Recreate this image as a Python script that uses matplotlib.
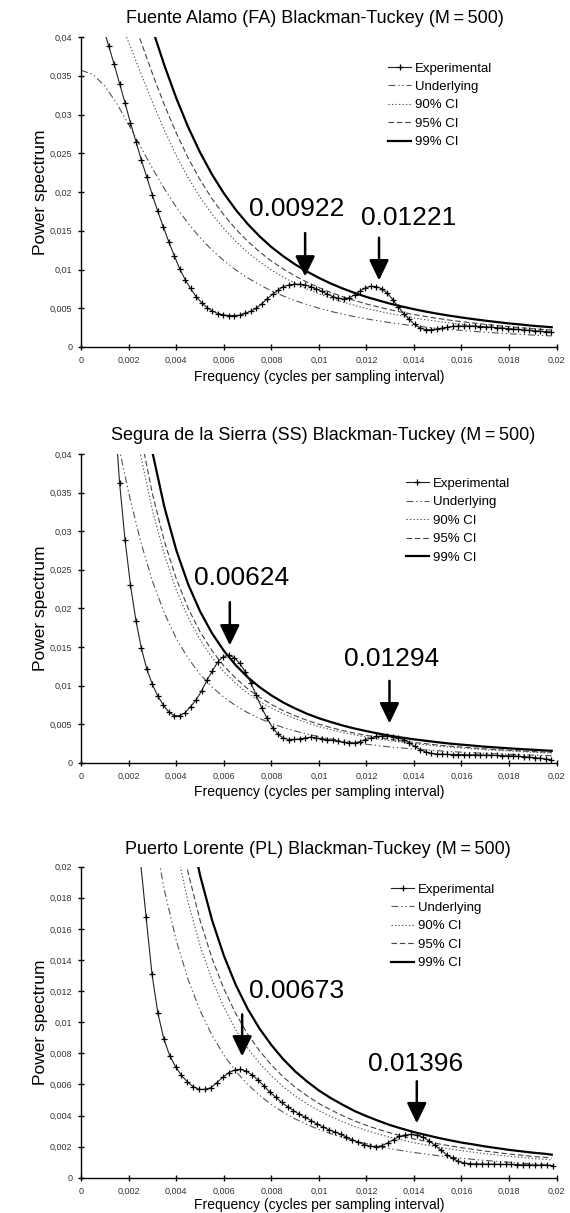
import numpy as np
import matplotlib
matplotlib.use("Agg")
import matplotlib.pyplot as plt
from matplotlib.ticker import FuncFormatter

plt.rcParams["font.family"] = ["Liberation Sans", "DejaVu Sans"]
plt.rcParams["lines.scale_dashes"] = False

# ---------------- data ----------------
# frequency grids (cycles per sampling interval)
freq_exp_12 = np.arange(87) * 0.00023
freq_exp_3 = np.arange(81) * 0.000248
freq_smooth = np.append(np.arange(40) * 0.0005, 0.0198)

# Fuente Alamo (FA)
fa_exp = [0.048, 0.0468, 0.0453, 0.0435, 0.0412,
          0.0389, 0.0365, 0.034, 0.0315, 0.0289,
          0.0265, 0.0241, 0.0219, 0.0196, 0.0175,
          0.0155, 0.0136, 0.0118, 0.0101, 0.0087,
          0.00756, 0.0065, 0.00573, 0.00509, 0.00462,
          0.00432, 0.00415, 0.00406, 0.00406, 0.0041,
          0.00436, 0.0046, 0.005, 0.00556, 0.0062,
          0.0068, 0.00735, 0.0078, 0.008, 0.0081,
          0.0081, 0.008, 0.0078, 0.00746, 0.0072,
          0.00684, 0.0065, 0.0063, 0.0062, 0.00635,
          0.00672, 0.00722, 0.00765, 0.00782, 0.0078,
          0.0075, 0.00695, 0.00612, 0.0052, 0.0043,
          0.00355, 0.00292, 0.00245, 0.00225, 0.00224,
          0.00232, 0.00242, 0.00256, 0.00265, 0.0027,
          0.0027, 0.0027, 0.00268, 0.00264, 0.0026,
          0.00255, 0.0025, 0.00244, 0.00238, 0.00232,
          0.00226, 0.0022, 0.00214, 0.00208, 0.00202,
          0.00197, 0.00192]
fa_under = [0.0357, 0.03516, 0.03364, 0.03138, 0.02867, 0.02582, 0.02301, 0.0204,
            0.01803, 0.01593, 0.0141, 0.01251, 0.01114, 0.00995, 0.00892, 0.00803,
            0.00725, 0.00658, 0.00599, 0.00547, 0.00501, 0.0046, 0.00424, 0.00392,
            0.00363, 0.00338, 0.00314, 0.00293, 0.00274, 0.00257, 0.00241, 0.00227,
            0.00214, 0.00202, 0.00191, 0.00181, 0.00171, 0.00163, 0.00154, 0.00147, 0.00143]
fa_ci90 = [0.0489, 0.04817, 0.04609, 0.04299, 0.03928, 0.03537, 0.03152, 0.02795,
           0.0247, 0.02182, 0.01932, 0.01714, 0.01526, 0.01363, 0.01222, 0.011,
           0.00993, 0.00901, 0.00821, 0.00749, 0.00686, 0.0063, 0.00581, 0.00537,
           0.00497, 0.00463, 0.0043, 0.00401, 0.00375, 0.00352, 0.0033, 0.00311,
           0.00293, 0.00277, 0.00262, 0.00248, 0.00234, 0.00223, 0.00211, 0.00201, 0.00196]
fa_ci95 = [0.05462, 0.05379, 0.05147, 0.04801, 0.04387, 0.0395, 0.03521, 0.03121,
           0.02759, 0.02437, 0.02157, 0.01914, 0.01704, 0.01522, 0.01365, 0.01229,
           0.01109, 0.01007, 0.00916, 0.00837, 0.00767, 0.00704, 0.00649, 0.006,
           0.00555, 0.00517, 0.0048, 0.00448, 0.00419, 0.00393, 0.00369, 0.00347,
           0.00327, 0.00309, 0.00292, 0.00277, 0.00262, 0.00249, 0.00236, 0.00225, 0.00219]
fa_ci99 = [0.06355, 0.06258, 0.05988, 0.05586, 0.05103, 0.04596, 0.04096, 0.03631,
           0.03209, 0.02836, 0.0251, 0.02227, 0.01983, 0.01771, 0.01588, 0.01429,
           0.0129, 0.01171, 0.01066, 0.00974, 0.00892, 0.00819, 0.00755, 0.00698,
           0.00646, 0.00602, 0.00559, 0.00522, 0.00488, 0.00457, 0.00429, 0.00404,
           0.00381, 0.0036, 0.0034, 0.00322, 0.00304, 0.0029, 0.00274, 0.00262, 0.00255]

# Segura de la Sierra (SS)
ss_exp = [0.1, 0.095, 0.088, 0.079, 0.068, 0.057, 0.0465,
          0.0363, 0.0289, 0.023, 0.0184, 0.0148,
          0.0121, 0.01015, 0.00864, 0.00747, 0.00657,
          0.00609, 0.00609, 0.00648, 0.00726, 0.00812,
          0.00929, 0.01067, 0.01192, 0.01309, 0.01374,
          0.01395, 0.0136, 0.01287, 0.01179, 0.01037,
          0.00877, 0.00713, 0.00575, 0.00454, 0.00367,
          0.00318, 0.003, 0.00302, 0.0031, 0.0032,
          0.0033, 0.0032, 0.00312, 0.003, 0.0029,
          0.00278, 0.00264, 0.00252, 0.00255, 0.00274,
          0.003, 0.0032, 0.0034, 0.00346, 0.00345,
          0.00335, 0.0032, 0.003, 0.00256, 0.0021,
          0.0017, 0.0014, 0.0012, 0.00112, 0.0011,
          0.00108, 0.00106, 0.00105, 0.00104, 0.00103,
          0.00102, 0.001, 0.00098, 0.00096, 0.00094,
          0.00092, 0.0009, 0.00087, 0.00083, 0.00078,
          0.00072, 0.00065, 0.00057, 0.00048, 0.0004]
ss_under = [0.0572, 0.05497, 0.0493, 0.04207, 0.0349, 0.02863, 0.02347, 0.01935,
            0.01609, 0.01351, 0.01146, 0.00981, 0.00848, 0.00739, 0.00648, 0.00573,
            0.0051, 0.00456, 0.00411, 0.00371, 0.00337, 0.00308, 0.00282, 0.00259,
            0.00239, 0.00221, 0.00204, 0.0019, 0.00177, 0.00166, 0.00155, 0.00145,
            0.00137, 0.00129, 0.00121, 0.00115, 0.00109, 0.00103, 0.00098, 0.00093, 0.0009]
ss_ci90 = [0.07951, 0.07641, 0.06853, 0.05848, 0.04851, 0.0398, 0.03262, 0.0269,
           0.02237, 0.01878, 0.01593, 0.01364, 0.01179, 0.01027, 0.00901, 0.00796,
           0.00709, 0.00634, 0.00571, 0.00516, 0.00468, 0.00428, 0.00392, 0.0036,
           0.00332, 0.00307, 0.00284, 0.00264, 0.00246, 0.00231, 0.00215, 0.00202,
           0.0019, 0.00179, 0.00168, 0.0016, 0.00152, 0.00143, 0.00136, 0.00129, 0.00125]
ss_ci95 = [0.08466, 0.08136, 0.07296, 0.06226, 0.05165, 0.04237, 0.03474, 0.02864,
           0.02381, 0.01999, 0.01696, 0.01452, 0.01255, 0.01094, 0.00959, 0.00848,
           0.00755, 0.00675, 0.00608, 0.00549, 0.00499, 0.00456, 0.00417, 0.00383,
           0.00354, 0.00327, 0.00302, 0.00281, 0.00262, 0.00246, 0.00229, 0.00215,
           0.00203, 0.00191, 0.00179, 0.0017, 0.00161, 0.00152, 0.00145, 0.00138, 0.00133]
ss_ci99 = [0.09781, 0.094, 0.0843, 0.07194, 0.05968, 0.04896, 0.04013, 0.03309,
           0.02751, 0.0231, 0.0196, 0.01678, 0.0145, 0.01264, 0.01108, 0.0098,
           0.00872, 0.0078, 0.00703, 0.00634, 0.00576, 0.00527, 0.00482, 0.00443,
           0.00409, 0.00378, 0.00349, 0.00325, 0.00303, 0.00284, 0.00265, 0.00248,
           0.00234, 0.00221, 0.00207, 0.00197, 0.00186, 0.00176, 0.00168, 0.00159, 0.00154]

# Puerto Lorente (PL)
pl_exp = [0.07, 0.07, 0.068, 0.065, 0.06, 0.055,
          0.048, 0.04, 0.033, 0.026, 0.0205,
          0.01674, 0.01308, 0.01057, 0.00894, 0.00785,
          0.00714, 0.00658, 0.00617, 0.00585, 0.00568,
          0.00568, 0.00579, 0.00611, 0.00645, 0.00675,
          0.00692, 0.00697, 0.00686, 0.0066, 0.00628,
          0.0059, 0.00551, 0.00517, 0.00484, 0.00457,
          0.00431, 0.00409, 0.00388, 0.00367, 0.00345,
          0.00327, 0.00309, 0.00295, 0.0028, 0.00261,
          0.00244, 0.00228, 0.00213, 0.00203, 0.00199,
          0.00206, 0.00223, 0.00245, 0.00265, 0.00275,
          0.00278, 0.00273, 0.0026, 0.00238, 0.0021,
          0.00178, 0.00148, 0.00124, 0.00105, 0.00094,
          0.0009, 0.00089, 0.00088, 0.00087, 0.00087,
          0.00086, 0.00085, 0.00085, 0.00084, 0.00083,
          0.00082, 0.00081, 0.0008, 0.00079, 0.00078]
pl_under = [0.05989, 0.05727, 0.05062, 0.04241, 0.03457, 0.02793, 0.02261, 0.01846,
            0.01524, 0.01272, 0.01074, 0.00916, 0.00789, 0.00685, 0.006, 0.0053,
            0.00471, 0.00421, 0.00378, 0.00342, 0.0031, 0.00283, 0.00259, 0.00237,
            0.00219, 0.00202, 0.00187, 0.00174, 0.00162, 0.00152, 0.00142, 0.00133,
            0.00125, 0.00118, 0.00111, 0.00105, 0.00099, 0.00094, 0.00089, 0.00085, 0.00082]
pl_ci90 = [0.08325, 0.0796, 0.07036, 0.05895, 0.04805, 0.03882, 0.03143, 0.02566,
           0.02118, 0.01768, 0.01493, 0.01273, 0.01097, 0.00952, 0.00834, 0.00737,
           0.00655, 0.00585, 0.00525, 0.00475, 0.00431, 0.00393, 0.0036, 0.00329,
           0.00304, 0.00281, 0.0026, 0.00242, 0.00225, 0.00211, 0.00197, 0.00185,
           0.00174, 0.00164, 0.00154, 0.00146, 0.00138, 0.00131, 0.00124, 0.00118, 0.00114]
pl_ci95 = [0.09223, 0.0882, 0.07795, 0.06531, 0.05324, 0.04301, 0.03482, 0.02843,
           0.02347, 0.01959, 0.01654, 0.01411, 0.01215, 0.01055, 0.00924, 0.00816,
           0.00725, 0.00648, 0.00582, 0.00527, 0.00477, 0.00436, 0.00399, 0.00365,
           0.00337, 0.00311, 0.00288, 0.00268, 0.00249, 0.00234, 0.00219, 0.00205,
           0.00193, 0.00182, 0.00171, 0.00162, 0.00152, 0.00145, 0.00137, 0.00131, 0.00126]
pl_ci99 = [0.1084, 0.1037, 0.09162, 0.07676, 0.06257, 0.05055, 0.04092, 0.03341,
           0.02758, 0.02302, 0.01944, 0.01658, 0.01428, 0.0124, 0.01086, 0.00959,
           0.00853, 0.00762, 0.00684, 0.00619, 0.00561, 0.00512, 0.00469, 0.00429,
           0.00396, 0.00366, 0.00338, 0.00315, 0.00293, 0.00275, 0.00257, 0.00241,
           0.00226, 0.00214, 0.00201, 0.0019, 0.00179, 0.0017, 0.00161, 0.00154, 0.00148]

titles = ["Fuente Alamo (FA) Blackman-Tuckey (M\u2009=\u2009500)",
          "Segura de la Sierra (SS) Blackman-Tuckey (M\u2009=\u2009500)",
          "Puerto Lorente (PL) Blackman-Tuckey (M\u2009=\u2009500)"]
y_max = [0.04, 0.04, 0.02]
y_step = [0.005, 0.005, 0.002]
# peak labels: (text, text x, text y, arrow x, arrow top, arrow tip)
peaks = [
    [("0.00922", 0.00908, 0.0178, 0.00942, 0.0147, 0.0091),
     ("0.01221", 0.01379, 0.0167, 0.01253, 0.0141, 0.0086)],
    [("0.00624", 0.00673, 0.0239, 0.00625, 0.0208, 0.0152),
     ("0.01294", 0.01306, 0.0135, 0.01297, 0.0106, 0.0051)],
    [("0.00673", 0.00904, 0.0120, 0.00677, 0.0105, 0.0078),
     ("0.01396", 0.01405, 0.0073, 0.01412, 0.0062, 0.0035)],
]
panels = [
    (freq_exp_12, fa_exp, fa_under, fa_ci90, fa_ci95, fa_ci99),
    (freq_exp_12, ss_exp, ss_under, ss_ci90, ss_ci95, ss_ci99),
    (freq_exp_3, pl_exp, pl_under, pl_ci90, pl_ci95, pl_ci99),
]

# ---------------- layout (pixels of a 570x1213 image) ----------------
W, H = 570, 1213
ax_left, ax_right = 81.3, 556.5
ax_top_bot = [(37, 347), (454, 762.7), (866.7, 1177.7)]
title_pos = [(315, 18.5), (323.6, 435.8), (318, 849.2)]
xlabel_y = [377.5, 791.7, 1205]
legend_pos = [(388, 67.3), (405.5, 482.7), (391, 888.3)]

fig = plt.figure(figsize=(W / 100, H / 100), dpi=100)

comma = FuncFormatter(lambda v, p: f"{v:g}".replace(".", ","))

for i, (fx, exp, under, c90, c95, c99) in enumerate(panels):
    top, bot = ax_top_bot[i]
    ax = fig.add_axes([ax_left / W, 1 - bot / H,
                       (ax_right - ax_left) / W, (bot - top) / H])

    ax.plot(freq_smooth, under, color="#555555", lw=0.8,
            ls=(0, (5, 2, 1, 2, 1, 2)), label="Underlying")
    ax.plot(freq_smooth, c90, color="#555555", lw=0.8,
            ls=(0, (1, 1.5)), label="90% CI")
    ax.plot(freq_smooth, c95, color="#444444", lw=0.8,
            ls=(0, (4, 2)), label="95% CI")
    ax.plot(freq_smooth, c99, color="black", lw=1.6, label="99% CI")
    ax.plot(fx, exp, color="#222222", lw=0.8, marker="+", ms=4.5,
            mew=0.9, mec="black", label="Experimental")

    ax.set_xlim(0, 0.02)
    ax.set_ylim(0, y_max[i])
    ax.set_xticks(np.arange(11) * 0.002)
    ax.set_yticks(np.arange(9) * y_step[i] if i < 2 else np.arange(11) * y_step[i])
    ax.xaxis.set_major_formatter(comma)
    ax.yaxis.set_major_formatter(comma)
    ax.tick_params(direction="inout", length=5, width=1, labelsize=6.5,
                   labelcolor="#333333", pad=4)
    for s in ["top", "right"]:
        ax.spines[s].set_visible(False)
    for s in ["left", "bottom"]:
        ax.spines[s].set_linewidth(1.0)

    # legend in the order of the original
    h, l = ax.get_legend_handles_labels()
    order = [4, 0, 1, 2, 3]
    lx, ly = legend_pos[i]
    ax.legend([h[k] for k in order], [l[k] for k in order],
              loc="upper left", frameon=False, fontsize=9.5,
              bbox_to_anchor=((lx - ax_left) / (ax_right - ax_left),
                              1 - (ly - 5 - top) / (bot - top)),
              borderpad=0, borderaxespad=0, handlelength=1.75,
              handletextpad=0.3, labelspacing=0.47)

    for txt, tx, ty, axx, a0, a1 in peaks[i]:
        ax.text(tx, ty, txt, fontsize=19, ha="center", va="center")
        ax.annotate("", xy=(axx, a1), xytext=(axx, a0),
                    arrowprops=dict(arrowstyle="-|>,head_length=0.62,head_width=0.3",
                                    mutation_scale=20, lw=1.8, color="black",
                                    shrinkA=0, shrinkB=0))

    tx, ty = title_pos[i]
    fig.text(tx / W, 1 - ty / H, titles[i], fontsize=13, ha="center", va="center")
    fig.text(41 / W, 1 - (top + bot) / 2 / H, "Power spectrum", fontsize=12.5,
             rotation=90, ha="center", va="center")
    fig.text(319 / W, 1 - xlabel_y[i] / H, "Frequency (cycles per sampling interval)",
             fontsize=10, ha="center", va="center")

fig.savefig("out.png", dpi=100)
